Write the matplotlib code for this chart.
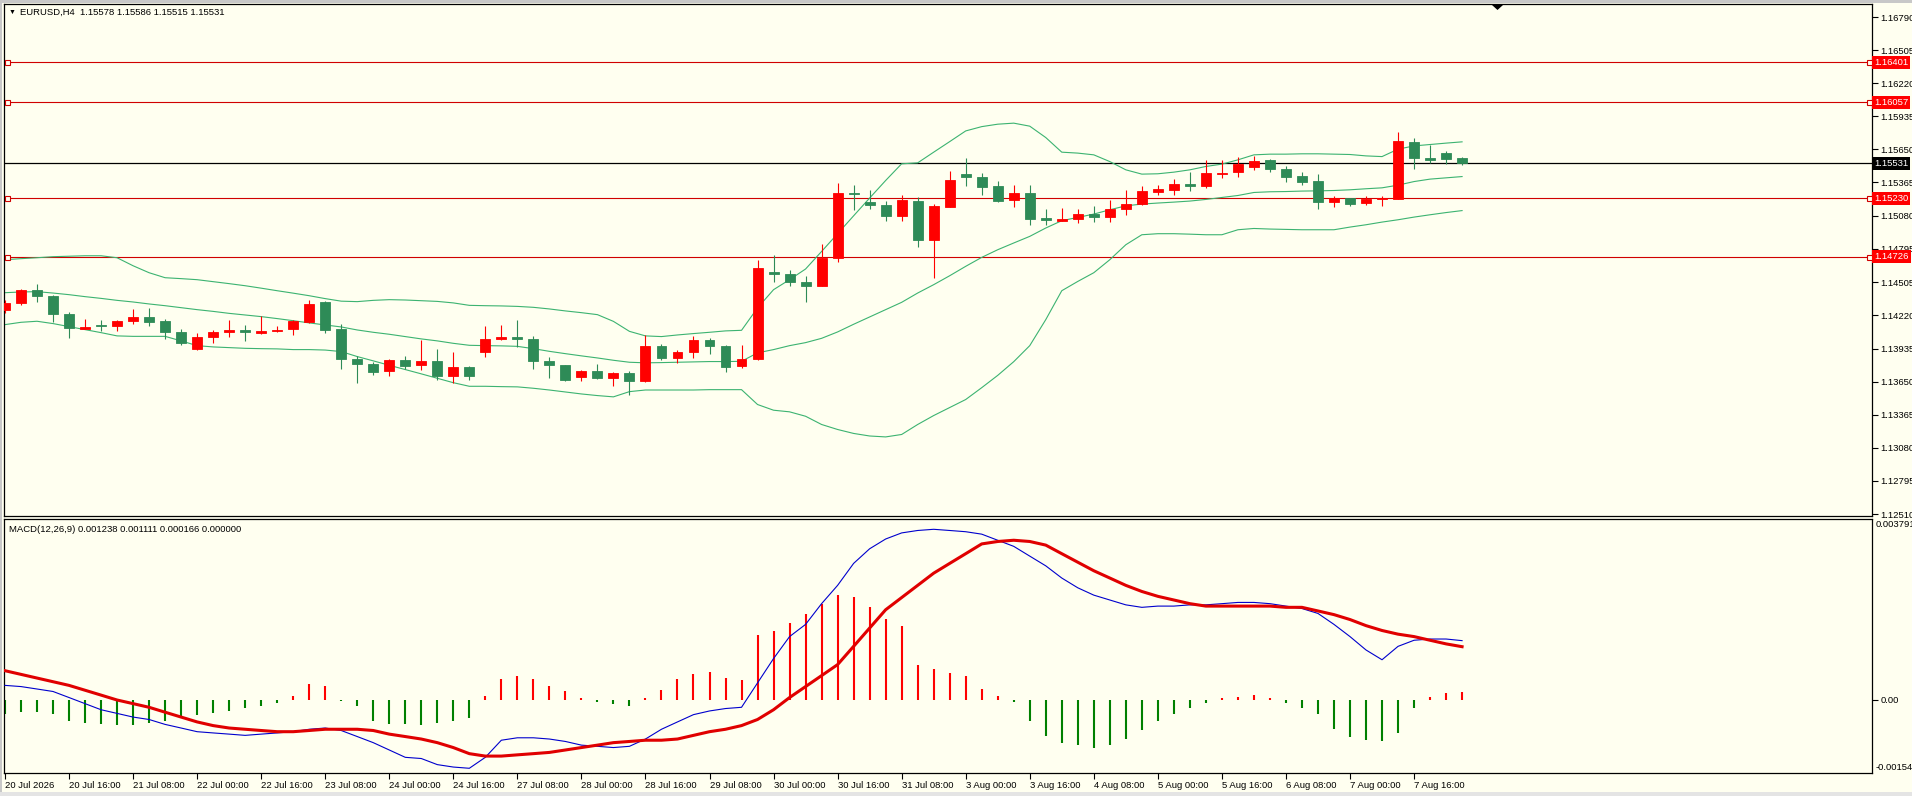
import matplotlib
matplotlib.use("Agg")
import matplotlib.pyplot as plt
import matplotlib.transforms as mtransforms
from matplotlib.patches import Rectangle, Polygon

plt.rcParams['font.family'] = ['Liberation Sans', 'DejaVu Sans']

# ---- price data (EURUSD H4) ----
opens = [
    1.14270, 1.14330, 1.14436, 1.14386, 1.14236, 1.14107, 1.14141, 1.14127, 1.14170, 1.14207,
    1.14173, 1.14081, 1.13932, 1.14035, 1.14075, 1.14098, 1.14069, 1.14084, 1.14104, 1.14161,
    1.14334, 1.14107, 1.13846, 1.13806, 1.13739, 1.13837, 1.13791, 1.13829, 1.13696, 1.13777,
    1.13903, 1.14015, 1.14035, 1.14018, 1.13829, 1.13794, 1.13687, 1.13742, 1.13682, 1.13728,
    1.13656, 1.13960, 1.13854, 1.13903, 1.14009, 1.13960, 1.13788, 1.13846, 1.14597, 1.14577,
    1.14508, 1.14477, 1.14717, 1.15276, 1.15196, 1.15173, 1.15073, 1.15207, 1.14872, 1.15158,
    1.15437, 1.15414, 1.15339, 1.15216, 1.15273, 1.15059, 1.15036, 1.15050, 1.15093, 1.15067,
    1.15136, 1.15179, 1.15287, 1.15302, 1.15354, 1.15339, 1.15440, 1.15451, 1.15497, 1.15560,
    1.15480, 1.15422, 1.15379, 1.15196, 1.15230, 1.15187, 1.15222, 1.15222, 1.15715, 1.15574,
    1.15623, 1.15578]
highs = [
    1.14356, 1.14451, 1.14494, 1.14399, 1.14247, 1.14193, 1.14184, 1.14184, 1.14279, 1.14285,
    1.14190, 1.14104, 1.14069, 1.14092, 1.14184, 1.14141, 1.14218, 1.14127, 1.14184, 1.14356,
    1.14343, 1.14150, 1.13868, 1.13817, 1.13848, 1.13874, 1.14012, 1.13932, 1.13906, 1.13782,
    1.14132, 1.14141, 1.14184, 1.14041, 1.13863, 1.13797, 1.13754, 1.13806, 1.13736, 1.13739,
    1.14055, 1.13977, 1.13926, 1.14041, 1.14026, 1.13969, 1.13969, 1.14700, 1.14743, 1.14608,
    1.14557, 1.14833, 1.15359, 1.15345, 1.15302, 1.15207, 1.15259, 1.15244, 1.15179, 1.15465,
    1.15580, 1.15446, 1.15379, 1.15345, 1.15345, 1.15139, 1.15145, 1.15136, 1.15164, 1.15216,
    1.15302, 1.15339, 1.15345, 1.15396, 1.15454, 1.15558, 1.15560, 1.15586, 1.15589, 1.15566,
    1.15508, 1.15459, 1.15439, 1.15250, 1.15233, 1.15250, 1.15250, 1.15798, 1.15747, 1.15686,
    1.15637, 1.15586]
lows = [
    1.14244, 1.14313, 1.14339, 1.14161, 1.14026, 1.14103, 1.14084, 1.14084, 1.14150, 1.14127,
    1.14020, 1.13963, 1.13926, 1.13984, 1.14032, 1.13997, 1.14061, 1.14075, 1.14049, 1.14156,
    1.14069, 1.13760, 1.13639, 1.13705, 1.13696, 1.13762, 1.13754, 1.13667, 1.13639, 1.13667,
    1.13863, 1.14006, 1.13950, 1.13760, 1.13679, 1.13658, 1.13653, 1.13673, 1.13610, 1.13538,
    1.13650, 1.13840, 1.13812, 1.13854, 1.13892, 1.13736, 1.13768, 1.13840, 1.14505, 1.14471,
    1.14336, 1.14471, 1.14683, 1.15130, 1.15139, 1.15030, 1.15030, 1.14806, 1.14542, 1.15153,
    1.15339, 1.15253, 1.15196, 1.15158, 1.14995, 1.15001, 1.15030, 1.15013, 1.15025, 1.15025,
    1.15087, 1.15173, 1.15253, 1.15253, 1.15293, 1.15321, 1.15400, 1.15416, 1.15474, 1.15451,
    1.15373, 1.15345, 1.15136, 1.15158, 1.15164, 1.15170, 1.15164, 1.15219, 1.15482, 1.15537,
    1.15526, 1.15515]
closes = [
    1.14330, 1.14442, 1.14384, 1.14233, 1.14113, 1.14121, 1.14127, 1.14176, 1.14207, 1.14161,
    1.14075, 1.13984, 1.14035, 1.14081, 1.14098, 1.14075, 1.14089, 1.14098, 1.14170, 1.14322,
    1.14098, 1.13846, 1.13803, 1.13734, 1.13837, 1.13782, 1.13829, 1.13696, 1.13777, 1.13696,
    1.14018, 1.14035, 1.14015, 1.13825, 1.13791, 1.13662, 1.13742, 1.13679, 1.13725, 1.13653,
    1.13960, 1.13851, 1.13906, 1.14009, 1.13954, 1.13774, 1.13846, 1.14631, 1.14573, 1.14505,
    1.14471, 1.14717, 1.15273, 1.15265, 1.15167, 1.15073, 1.15216, 1.14872, 1.15164, 1.15388,
    1.15408, 1.15330, 1.15207, 1.15273, 1.15053, 1.15044, 1.15050, 1.15093, 1.15064, 1.15139,
    1.15179, 1.15293, 1.15311, 1.15351, 1.15339, 1.15446, 1.15448, 1.15523, 1.15554, 1.15480,
    1.15416, 1.15373, 1.15193, 1.15230, 1.15179, 1.15222, 1.15230, 1.15721, 1.15580, 1.15560,
    1.15569, 1.15531]

# Bollinger bands
bb_upper = [
    1.14700, 1.14709, 1.14717, 1.14726, 1.14730, 1.14734, 1.14734, 1.14717, 1.14648, 1.14588,
    1.14545, 1.14537, 1.14528, 1.14511, 1.14494, 1.14476, 1.14455, 1.14433, 1.14412, 1.14390,
    1.14365, 1.14343, 1.14339, 1.14350, 1.14356, 1.14353, 1.14347, 1.14341, 1.14328, 1.14307,
    1.14304, 1.14302, 1.14298, 1.14290, 1.14276, 1.14259, 1.14244, 1.14227, 1.14169, 1.14083,
    1.14044, 1.14038, 1.14052, 1.14064, 1.14075, 1.14087, 1.14092, 1.14285, 1.14442, 1.14528,
    1.14620, 1.14771, 1.14924, 1.15078, 1.15231, 1.15382, 1.15526, 1.15534, 1.15626, 1.15717,
    1.15809, 1.15846, 1.15867, 1.15876, 1.15850, 1.15752, 1.15626, 1.15618, 1.15603, 1.15545,
    1.15474, 1.15437, 1.15440, 1.15454, 1.15474, 1.15503, 1.15523, 1.15560, 1.15603, 1.15609,
    1.15609, 1.15612, 1.15612, 1.15609, 1.15606, 1.15594, 1.15588, 1.15652, 1.15680, 1.15692,
    1.15704, 1.15715]
bb_mid = [
    1.14416, 1.14422, 1.14425, 1.14413, 1.14399, 1.14382, 1.14367, 1.14350, 1.14336, 1.14319,
    1.14304, 1.14287, 1.14270, 1.14255, 1.14238, 1.14224, 1.14210, 1.14193, 1.14175, 1.14156,
    1.14138, 1.14121, 1.14095, 1.14075, 1.14058, 1.14038, 1.14018, 1.14001, 1.13980, 1.13963,
    1.13960, 1.13958, 1.13954, 1.13934, 1.13911, 1.13891, 1.13872, 1.13854, 1.13834, 1.13817,
    1.13812, 1.13814, 1.13817, 1.13820, 1.13823, 1.13823, 1.13825, 1.13898, 1.13926, 1.13960,
    1.13986, 1.14023, 1.14078, 1.14144, 1.14207, 1.14270, 1.14333, 1.14413, 1.14485, 1.14562,
    1.14643, 1.14720, 1.14786, 1.14844, 1.14901, 1.14973, 1.15036, 1.15064, 1.15093, 1.15130,
    1.15164, 1.15179, 1.15188, 1.15196, 1.15205, 1.15219, 1.15236, 1.15253, 1.15279, 1.15285,
    1.15287, 1.15291, 1.15293, 1.15296, 1.15302, 1.15311, 1.15319, 1.15342, 1.15373, 1.15394,
    1.15405, 1.15416]
bb_lower = [
    1.14141, 1.14161, 1.14170, 1.14150, 1.14124, 1.14098, 1.14072, 1.14044, 1.14040, 1.14040,
    1.14040, 1.14001, 1.13960, 1.13949, 1.13943, 1.13937, 1.13934, 1.13932, 1.13926, 1.13926,
    1.13922, 1.13909, 1.13866, 1.13829, 1.13791, 1.13754, 1.13717, 1.13679, 1.13641, 1.13610,
    1.13610, 1.13607, 1.13605, 1.13593, 1.13578, 1.13561, 1.13544, 1.13530, 1.13519, 1.13564,
    1.13578, 1.13578, 1.13578, 1.13578, 1.13581, 1.13581, 1.13581, 1.13453, 1.13404, 1.13390,
    1.13352, 1.13281, 1.13238, 1.13204, 1.13182, 1.13174, 1.13195, 1.13281, 1.13358, 1.13427,
    1.13496, 1.13598, 1.13704, 1.13822, 1.13960, 1.14184, 1.14433, 1.14513, 1.14588, 1.14700,
    1.14829, 1.14915, 1.14924, 1.14924, 1.14920, 1.14915, 1.14915, 1.14958, 1.14969, 1.14964,
    1.14961, 1.14958, 1.14958, 1.14958, 1.14981, 1.15001, 1.15024, 1.15044, 1.15067, 1.15087,
    1.15106, 1.15123]

# MACD(12,26,9)
macd_main = [
    0.000299, 0.000274, 0.000223, 0.000171, 0.000044, -0.000084, -0.000212, -0.000289, -0.000366, -0.000417,
    -0.000520, -0.000596, -0.000673, -0.000699, -0.000724, -0.000750, -0.000724, -0.000699, -0.000673, -0.000622,
    -0.000596, -0.000648, -0.000775, -0.000903, -0.001057, -0.001211, -0.001236, -0.001364, -0.001415, -0.001441,
    -0.001211, -0.000852, -0.000801, -0.000801, -0.000827, -0.000878, -0.000955, -0.000980, -0.001006, -0.000980,
    -0.000827, -0.000622, -0.000468, -0.000315, -0.000238, -0.000187, -0.000161, 0.000351, 0.000862, 0.001323,
    0.001579, 0.002014, 0.002398, 0.002859, 0.003166, 0.003371, 0.003499, 0.003550, 0.003575, 0.003550,
    0.003524, 0.003473, 0.003345, 0.003217, 0.003012, 0.002808, 0.002552, 0.002347, 0.002193, 0.002091,
    0.001989, 0.001937, 0.001963, 0.001963, 0.001989, 0.001989, 0.002014, 0.002040, 0.002040, 0.002014,
    0.001963, 0.001912, 0.001809, 0.001579, 0.001323, 0.001042, 0.000837, 0.001118, 0.001246, 0.001272,
    0.001272, 0.001238]
macd_signal = [
    0.000607, 0.000530, 0.000453, 0.000376, 0.000299, 0.000197, 0.000095, -0.000008, -0.000084, -0.000161,
    -0.000264, -0.000366, -0.000468, -0.000545, -0.000596, -0.000622, -0.000648, -0.000673, -0.000673, -0.000648,
    -0.000622, -0.000622, -0.000622, -0.000648, -0.000724, -0.000775, -0.000827, -0.000903, -0.001006, -0.001134,
    -0.001185, -0.001185, -0.001159, -0.001134, -0.001108, -0.001057, -0.001006, -0.000955, -0.000903, -0.000878,
    -0.000852, -0.000852, -0.000827, -0.000750, -0.000673, -0.000622, -0.000545, -0.000417, -0.000212, 0.000044,
    0.000274, 0.000504, 0.000735, 0.001118, 0.001502, 0.001886, 0.002142, 0.002398, 0.002654, 0.002859,
    0.003063, 0.003268, 0.003319, 0.003345, 0.003319, 0.003243, 0.003063, 0.002884, 0.002705, 0.002552,
    0.002398, 0.002270, 0.002168, 0.002091, 0.002014, 0.001963, 0.001963, 0.001963, 0.001963, 0.001963,
    0.001937, 0.001937, 0.001861, 0.001784, 0.001681, 0.001553, 0.001451, 0.001374, 0.001323, 0.001246,
    0.001170, 0.001111]
macd_hist = [
    -0.00031, -0.00026, -0.00026, -0.00031, -0.00044, -0.00049, -0.00051, -0.00054, -0.00054, -0.00049,
    -0.00044, -0.00038, -0.00033, -0.00028, -0.00023, -0.00018, -0.00013, -0.00008, 0.00008, 0.00033,
    0.00028, -0.00002, -0.00013, -0.00044, -0.00051, -0.00051, -0.00054, -0.00049, -0.00044, -0.00038,
    0.00008, 0.00044, 0.00049, 0.00044, 0.00028, 0.00018, 0.00003, -0.00005, -0.00010, -0.00013,
    0.00003, 0.00020, 0.00044, 0.00054, 0.00059, 0.00046, 0.00041, 0.00136, 0.00143, 0.00161,
    0.00179, 0.00200, 0.00220, 0.00215, 0.00195, 0.00169, 0.00154, 0.00072, 0.00064, 0.00056,
    0.00049, 0.00023, 0.00008, -0.00005, -0.00044, -0.00077, -0.00090, -0.00095, -0.00102, -0.00095,
    -0.00082, -0.00064, -0.00044, -0.00031, -0.00018, -0.00008, 0.00003, 0.00005, 0.00010, 0.00003,
    -0.00008, -0.00018, -0.00031, -0.00061, -0.00079, -0.00084, -0.00087, -0.00069, -0.00018, 0.00005,
    0.00013, 0.000166]

# horizontal levels
red_levels = [1.16401, 1.16057, 1.15230, 1.14726]
bid_price = 1.15531

price_ticks = [1.16790, 1.16505, 1.16220, 1.15935, 1.15650, 1.15365, 1.15080, 1.14795,
               1.14505, 1.14220, 1.13935, 1.13650, 1.13365, 1.13080, 1.12795, 1.12510]
date_labels = ['20 Jul 2026', '20 Jul 16:00', '21 Jul 08:00', '22 Jul 00:00', '22 Jul 16:00',
               '23 Jul 08:00', '24 Jul 00:00', '24 Jul 16:00', '27 Jul 08:00', '28 Jul 00:00',
               '28 Jul 16:00', '29 Jul 08:00', '30 Jul 00:00', '30 Jul 16:00', '31 Jul 08:00',
               '3 Aug 00:00', '3 Aug 16:00', '4 Aug 08:00', '5 Aug 00:00', '5 Aug 16:00',
               '6 Aug 08:00', '7 Aug 00:00', '7 Aug 16:00']

BG = '#FFFFF0'
BULL = '#FF0000'
BEAR = '#2E8B57'
LEVEL = '#D00000'
BAND = '#3CB371'
FS = 6.8

W, H = 1912, 796
fig = plt.figure(figsize=(W / 100, H / 100), dpi=100, facecolor=BG)


def fx(px):
    return px / W


def fy(py):
    return 1 - py / H


# window frame (drawn under the panes)
fig.patches.append(Rectangle((0, fy(3)), 1, 1 - fy(3), transform=fig.transFigure,
                             fc='#C8C8C8', ec='none', zorder=-5))
fig.patches.append(Rectangle((0, 0), fx(2), 1, transform=fig.transFigure,
                             fc='#C8C8C8', ec='none', zorder=-5))
fig.patches.append(Rectangle((0, 0), 1, fy(792), transform=fig.transFigure,
                             fc='#E4E4E4', ec='none', zorder=-5))

ax1 = fig.add_axes([fx(4), fy(516), fx(1872) - fx(4), fy(4) - fy(516)])
ax2 = fig.add_axes([fx(4), fy(773), fx(1872) - fx(4), fy(519) - fy(773)])

x = list(range(len(closes)))

for ax in (ax1, ax2):
    ax.set_facecolor(BG)
    for s in ax.spines.values():
        s.set_color('black')
        s.set_linewidth(0.9)
    ax.set_xlim(-0.06, 116.6)

# ---- main pane ----
ax1.set_ylim(1.12493, 1.16902)

ax1.plot(x, bb_upper, color=BAND, lw=0.8, zorder=2)
ax1.plot(x, bb_mid, color=BAND, lw=0.8, zorder=2)
ax1.plot(x, bb_lower, color=BAND, lw=0.8, zorder=2)

for i in x:
    o, h, l, c = opens[i], highs[i], lows[i], closes[i]
    col = BULL if c >= o else BEAR
    ax1.vlines(i, l, h, color=col, lw=0.8, zorder=3)
    ax1.add_patch(Rectangle((i - 0.31, min(o, c)), 0.62, max(abs(c - o), 0.00001),
                            facecolor=col, edgecolor=col, lw=0.6, zorder=4))

trans1 = mtransforms.blended_transform_factory(ax1.transAxes, ax1.transData)
for lv in red_levels:
    ax1.axhline(lv, color=LEVEL, lw=0.8, zorder=1)
    ax1.plot([0.12, 116.4], [lv, lv], ls='none', marker='s', ms=3.6, mfc=BG,
             mec=LEVEL, mew=0.8, clip_on=False, zorder=5)
    ax1.text(1.0012, lv, '%.5f' % lv, transform=trans1, color='white', fontsize=FS,
             va='center', ha='left', clip_on=False, zorder=6,
             bbox=dict(boxstyle='square,pad=0.2', fc='#FF0000', ec='none'))
ax1.axhline(bid_price, color='black', lw=0.9, zorder=1)
ax1.text(1.0012, bid_price, '%.5f' % bid_price, transform=trans1, color='white',
         fontsize=FS, va='center', ha='left', clip_on=False, zorder=6,
         bbox=dict(boxstyle='square,pad=0.2', fc='black', ec='none'))

ax1.set_xticks([])
ax1.yaxis.tick_right()
ax1.set_yticks(price_ticks)
ax1.set_yticklabels(['%.5f' % p for p in price_ticks])
ax1.tick_params(axis='y', direction='out', length=4, width=0.8, pad=2, labelsize=FS)

# ---- MACD pane ----
ax2.set_ylim(-0.00154, 0.003791)
hist_cols = [BULL if v > 0 else '#008000' for v in macd_hist]
ax2.vlines(x, 0, macd_hist, colors=hist_cols, lw=1.5, zorder=2)
ax2.plot(x, macd_main, color='#0000CD', lw=0.8, zorder=3)
ax2.plot(x, macd_signal, color='#E00000', lw=2.2, zorder=4)

ax2.yaxis.tick_right()
ax2.set_yticks([0.0])
ax2.set_yticklabels(['0.00'])
ax2.tick_params(axis='y', direction='out', length=4, width=0.8, pad=2, labelsize=FS)
ax2.text(1.0018, 0.995, '0.003791', transform=ax2.transAxes, fontsize=FS, va='top', ha='left')
ax2.text(1.0018, 0.005, '-0.00154', transform=ax2.transAxes, fontsize=FS, va='bottom', ha='left')

date_ticks = list(range(0, 4 * len(date_labels), 4))
ax2.set_xticks(date_ticks)
ax2.set_xticklabels(date_labels)
ax2.tick_params(axis='x', direction='out', length=4, width=0.8, pad=2, labelsize=FS)
for t in ax2.get_xticklabels():
    t.set_ha('left')

# ---- header texts ----
fig.text(fx(9), fy(12), '\u25bc', fontsize=5, va='center', ha='left')
fig.text(fx(20), fy(12), 'EURUSD,H4  1.15578 1.15586 1.15515 1.15531', fontsize=FS,
         va='center', ha='left')
fig.text(fx(9), fy(529), 'MACD(12,26,9) 0.001238 0.001111 0.000166 0.000000', fontsize=FS,
         va='center', ha='left')

# shift marker
fig.patches.append(Polygon([(fx(1492), fy(5)), (fx(1503), fy(5)), (fx(1497.5), fy(10))],
                           closed=True, transform=fig.transFigure, fc='black', ec='none',
                           zorder=10))

fig.savefig('out.png', dpi=100, facecolor=BG)
